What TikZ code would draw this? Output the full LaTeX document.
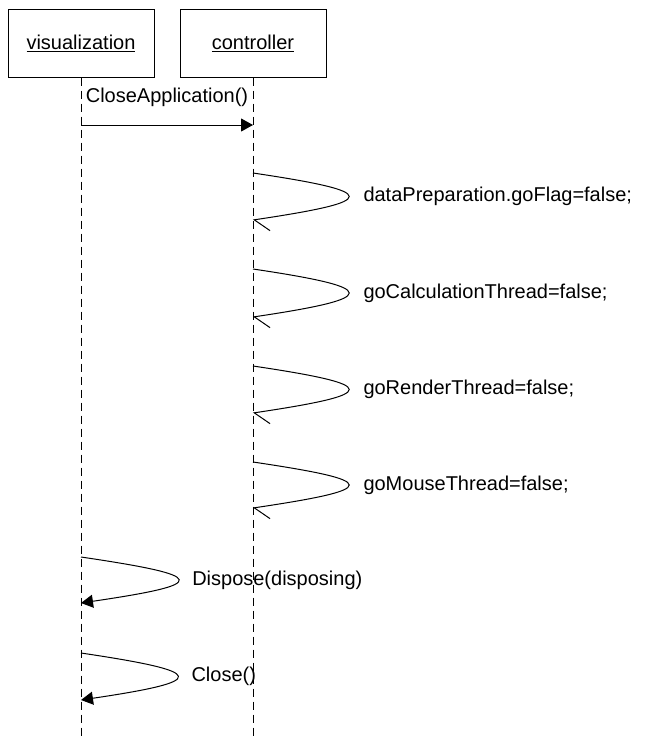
\documentclass[tikz,border=0pt]{standalone}
\usepackage{fontspec}
\setmainfont{Liberation Sans}
\usetikzlibrary{positioning,arrows.meta}

\tikzset{
  obj/.style={draw,line width=1pt,minimum width=146pt,minimum height=68pt,inner sep=0pt},
  life/.style={line width=1pt,dash pattern=on 8pt off 5pt},
  call/.style={line width=1pt,-{Triangle[length=12pt,width=13pt]}},
  async/.style={line width=1pt,-{Straight Barb[harpoon,length=14pt,width=26pt]}},
  msg/.style={inner sep=0pt,anchor=west,xshift=14pt},
}

\begin{document}
\begin{tikzpicture}[x=1pt,y=-1pt,font=\fontsize{20}{24}\selectfont]
                \useasboundingbox (0,0) rectangle (650,740);
                \node[obj] (vis) at (81,43) {\underline{visualization}};
                \node[obj,right=25pt of vis] (ctrl) {\underline{controller}};
                \coordinate (visend) at (vis.south |- 0,740);
                \coordinate (ctrlend) at (ctrl.south |- 0,740);
                \draw[life] (vis.south) -- (visend);
                \draw[life] (ctrl.south) -- (ctrlend);
                \coordinate (m0a) at (vis.south |- 0,125);
                \coordinate (m0b) at (ctrl.south |- 0,125);
                \draw[call] (m0a) -- (m0b) node[midway,above=18pt,inner sep=0pt] {CloseApplication()};
                \coordinate (c1a) at (ctrl.south |- 0,173);
                \coordinate (c1b) at (ctrl.south |- 0,220);
                \draw[async] (c1a) .. controls +(128,19) and +(128,-19) .. (c1b) node[msg,pos=0.5] {dataPreparation.goFlag=false;};
                \coordinate (c2a) at (ctrl.south |- 0,269);
                \coordinate (c2b) at (ctrl.south |- 0,317);
                \draw[async] (c2a) .. controls +(128,19) and +(128,-19) .. (c2b) node[msg,pos=0.5] {goCalculationThread=false;};
                \coordinate (c3a) at (ctrl.south |- 0,366);
                \coordinate (c3b) at (ctrl.south |- 0,413);
                \draw[async] (c3a) .. controls +(128,19) and +(128,-19) .. (c3b) node[msg,pos=0.5] {goRenderThread=false;};
                \coordinate (c4a) at (ctrl.south |- 0,462);
                \coordinate (c4b) at (ctrl.south |- 0,508);
                \draw[async] (c4a) .. controls +(128,19) and +(128,-19) .. (c4b) node[msg,pos=0.5] {goMouseThread=false;};
                \coordinate (v1a) at (vis.south |- 0,557);
                \coordinate (v1b) at (vis.south |- 0,603);
                \draw[call] (v1a) .. controls +(129,19) and +(129,-19) .. (v1b) node[msg,pos=0.5] {Dispose(disposing)};
                \coordinate (v2a) at (vis.south |- 0,653);
                \coordinate (v2b) at (vis.south |- 0,700);
                \draw[call] (v2a) .. controls +(128,19) and +(128,-19) .. (v2b) node[msg,pos=0.5] {Close()};
            \end{tikzpicture}
\end{document}
